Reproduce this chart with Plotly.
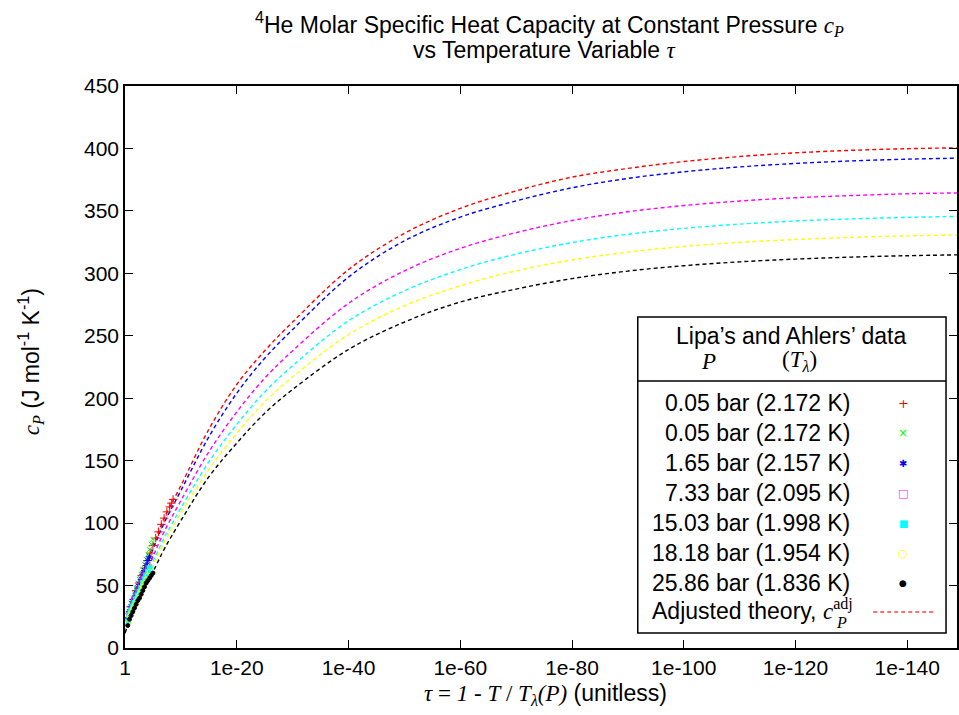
import plotly.graph_objects as go

# ---------------- data ----------------
# theory curves: tau given by its decade exponent (tau = 10**-L)
curve_L = [0, 1, 2, 3, 5, 7, 10, 15, 20, 25, 30, 40, 50, 60, 70, 80, 90, 100,
           110, 120, 130, 140, 149]
curve_red = [12, 32, 45, 58, 82, 104, 130, 175, 211, 238, 261, 303, 332, 352,
             366, 377, 384, 389.5, 393.5, 396.5, 398.5, 399.8, 400.5]
curve_blue = [12, 31, 43, 56, 79, 100, 126, 169, 204, 232, 255, 297, 326, 345,
              358, 368.5, 376, 381.3, 385.2, 388, 390, 391.4, 392.2]
curve_magenta = [12, 29, 40, 52, 73, 93, 118, 157, 189, 216, 238, 276, 302, 320,
                 332.6, 342.3, 349.3, 354.3, 357.9, 360.5, 362.3, 363.7, 364.4]
curve_cyan = [12, 27, 38, 50, 69, 88, 112, 149, 179, 205, 226, 262, 286, 303,
              315.4, 324.6, 331.3, 336, 339.4, 341.9, 343.6, 344.8, 345.6]
curve_yellow = [12, 26, 36, 48, 66, 84, 108, 143, 172, 197, 217, 251, 274, 290,
                302, 310.7, 317, 321.5, 324.8, 327.1, 328.8, 330, 330.7]
curve_black = [12, 24, 34, 45, 61, 79, 102, 137, 164, 188, 207, 239, 261, 277,
               287.4, 295.8, 301.8, 306.1, 309.2, 311.4, 313, 314.1, 314.8]

# measured data (Lipa's and Ahlers')
red_L = [0.5, 1, 1.5, 2, 2.5, 3, 3.5, 4, 4.5, 5, 5.5, 6, 6.5, 7, 7.5, 8, 8.3, 8.6]
red_c = [24, 33, 39, 46, 52, 58, 64, 70, 76, 82, 88, 93, 99, 104, 109, 113, 116, 119]
green_L = [0.5, 0.8, 1.1, 1.4, 1.7, 2.0, 2.3, 2.6, 2.9, 3.2, 3.5, 3.8, 4.1, 4.4, 4.7, 5.0]
green_c = [26, 32, 36, 40, 44, 48, 52, 55, 59, 63, 67, 71, 75, 79, 83, 87]
blue_L = [0.5, 0.8, 1.1, 1.4, 1.7, 2.0, 2.3, 2.6, 2.9, 3.2, 3.5, 3.8, 4.1, 4.4]
blue_c = [23, 29, 33, 37, 40, 44, 48, 51, 55, 59, 62, 66, 70, 73]
magenta_L = [0.5, 0.8, 1.1, 1.4, 1.7, 2.0, 2.3, 2.6, 2.9, 3.2, 3.5, 3.8, 4.1]
magenta_c = [22, 27, 31, 34, 38, 41, 44, 48, 51, 55, 58, 61, 64]
cyan_L = [0.5, 0.8, 1.1, 1.4, 1.7, 2.0, 2.3, 2.6, 2.9, 3.2, 3.5, 3.8, 4.1, 4.4]
cyan_c = [21, 26, 30, 33, 36, 39, 42, 45, 48, 52, 55, 58, 61, 64]
yellow_L = [0.5, 0.8, 1.1, 1.4, 1.7, 2.0, 2.3, 2.6, 2.9, 3.2, 3.5, 3.8, 4.1, 4.4]
yellow_c = [20, 25, 28, 31, 34, 37, 40, 43, 46, 49, 52, 55, 58, 61]
black_L = [0.5, 0.8, 1.1, 1.4, 1.7, 2.0, 2.3, 2.6, 2.9, 3.2, 3.5, 3.8, 4.1, 4.4, 4.7, 5.0]
black_c = [18, 23, 26, 29, 32, 35, 38, 40, 43, 46, 49, 52, 54, 56, 58, 60]

legend_labels = ["0.05 bar (2.172 K)", "0.05 bar (2.172 K)", "1.65 bar (2.157 K)",
                 "7.33 bar (2.095 K)", "15.03 bar (1.998 K)", "18.18 bar (1.954 K)",
                 "25.86 bar (1.836 K)"]
x_tick_exps = [0, 20, 40, 60, 80, 100, 120, 140]
x_tick_text = ["1", "1e-20", "1e-40", "1e-60", "1e-80", "1e-100", "1e-120", "1e-140"]
y_ticks = [0, 50, 100, 150, 200, 250, 300, 350, 400, 450]

# ---------------- figure ----------------
W, H = 959, 715
ML, MR, MT, MB = 125, 0, 86, 67
PW, PH = W - ML - MR, H - MT - MB

def px(x):
    return (x - ML) / PW

def py(y):
    return (H - MB - y) / PH

def tau(Ls):
    return [10.0 ** (-v) for v in Ls]

SANS = "Liberation Sans, Arial, sans-serif"
SERIF = "Liberation Serif"
FS = 21      # tick labels
FT = 23      # other texts

fig = go.Figure()

curve_sets = [
    (curve_red, "#ff0000"), (curve_blue, "#0000ff"), (curve_magenta, "#ff00ff"),
    (curve_cyan, "#00ffff"), (curve_yellow, "#ffff00"), (curve_black, "#000000"),
]
for vals, col in curve_sets:
    fig.add_trace(go.Scatter(x=tau(curve_L), y=vals, mode="lines",
                             line=dict(color=col, width=1.4, dash="4px,3px", shape="spline"),
                             showlegend=False, hoverinfo="skip"))

data_sets = [
    (red_L, red_c, "#ff0000", "cross-thin", 6),
    (green_L, green_c, "#00ff00", "x-thin", 5),
    (blue_L, blue_c, "#0000ff", "asterisk", 6),
    (magenta_L, magenta_c, "#ff00ff", "square-open", 5),
    (cyan_L, cyan_c, "#00ffff", "square", 5),
    (yellow_L, yellow_c, "#ffff00", "circle-open", 5),
    (black_L, black_c, "#000000", "circle", 4),
]
for Ls, cs, col, sym, sz in data_sets:
    fig.add_trace(go.Scatter(x=tau(Ls), y=cs, mode="markers",
                             marker=dict(symbol=sym, size=sz, color=col,
                                         line=dict(color=col, width=1)),
                             showlegend=False))

annotations = []
shapes = []

# title (two lines)
annotations.append(dict(
    x=px(551), y=py(24), xref="paper", yref="paper", showarrow=False,
    xanchor="center", yanchor="middle",
    text=("<sup>4</sup>He Molar Specific Heat Capacity at Constant Pressure "
          f"<span style='font-family:{SERIF}'><i>c</i><sub><i>P</i></sub></span>"),
    font=dict(family=SANS, size=FT, color="black")))
annotations.append(dict(
    x=px(546), y=py(50), xref="paper", yref="paper", showarrow=False,
    xanchor="center", yanchor="middle",
    text=f"vs Temperature Variable <span style='font-family:{SERIF}'><i>τ</i></span>",
    font=dict(family=SANS, size=FT, color="black")))

# axis titles
annotations.append(dict(
    x=px(547), y=py(695), xref="paper", yref="paper", showarrow=False,
    xanchor="center", yanchor="middle",
    text=(f"<span style='font-family:{SERIF}'><i>τ</i> = <i>1</i> - <i>T</i> / "
          "<i>T</i><sub><i>λ</i></sub><i>(P)</i></span> (unitless)"),
    font=dict(family=SANS, size=FT, color="black")))
annotations.append(dict(
    x=px(30), y=py(362), xref="paper", yref="paper", showarrow=False,
    xanchor="center", yanchor="middle", textangle=-90,
    text=(f"<span style='font-family:{SERIF}'><i>c</i><sub><i>P</i></sub></span>"
          " (J mol<sup>-1</sup> K<sup>-1</sup>)"),
    font=dict(family=SANS, size=FT, color="black")))

# legend box
LX0, LX1, LY0, LY1, LSEP = 639, 948, 317, 633, 381
shapes.append(dict(type="rect", xref="paper", yref="paper",
                   x0=px(LX0), x1=px(LX1), y0=py(LY1), y1=py(LY0),
                   line=dict(color="black", width=1.5), fillcolor="white", layer="above"))
shapes.append(dict(type="line", xref="paper", yref="paper",
                   x0=px(LX0), x1=px(LX1), y0=py(LSEP), y1=py(LSEP),
                   line=dict(color="black", width=1.5), layer="above"))
annotations.append(dict(
    x=px(793), y=py(336), xref="paper", yref="paper", showarrow=False,
    xanchor="center", yanchor="middle", text="Lipa’s and Ahlers’ data",
    font=dict(family=SANS, size=FT, color="black")))
annotations.append(dict(
    x=px(710), y=py(361), xref="paper", yref="paper", showarrow=False,
    xanchor="center", yanchor="middle", text="<i>P</i>",
    font=dict(family=SERIF, size=FT, color="black")))
annotations.append(dict(
    x=px(801), y=py(361), xref="paper", yref="paper", showarrow=False,
    xanchor="center", yanchor="middle", text="(<i>T</i><sub><i>λ</i></sub>)",
    font=dict(family=SERIF, size=FT, color="black")))

glyphs = [("+", "#ff0000", 13), ("×", "#00ff00", 12), ("✱", "#0000ff", 10),
          ("□", "#ff00ff", 11), ("■", "#00ffff", 10), ("○", "#ffff00", 11),
          ("●", "#000000", 9)]
for i, lab in enumerate(legend_labels):
    yy = 403 + 30 * i
    annotations.append(dict(
        x=px(854), y=py(yy), xref="paper", yref="paper", showarrow=False,
        xanchor="right", yanchor="middle", text=lab,
        font=dict(family=SANS, size=FT, color="black")))
    g, col, gs = glyphs[i]
    annotations.append(dict(
        x=px(905), y=py(yy), xref="paper", yref="paper", showarrow=False,
        xanchor="center", yanchor="middle", text=g,
        font=dict(family="DejaVu Sans", size=gs, color=col)))
annotations.append(dict(
    x=px(857), y=py(609), xref="paper", yref="paper", showarrow=False,
    xanchor="right", yanchor="middle",
    text=(f"Adjusted theory, <span style='font-family:{SERIF}'><i>c</i>"
          "<sup>adj</sup></span>"),
    font=dict(family=SANS, size=FT, color="black")))
annotations.append(dict(
    x=px(836), y=py(622), xref="paper", yref="paper", showarrow=False,
    xanchor="left", yanchor="middle", text="<i>P</i>",
    font=dict(family=SERIF, size=16, color="black")))
shapes.append(dict(type="line", xref="paper", yref="paper",
                   x0=px(875), x1=px(936), y0=py(612), y1=py(612),
                   line=dict(color="#ff4444", width=1.3, dash="4px,3px"), layer="above"))

axis_common = dict(showline=True, linecolor="black", linewidth=1.6, mirror="ticks",
                   ticks="inside", ticklen=8, tickwidth=1.3, tickcolor="black",
                   showgrid=False, zeroline=False,
                   tickfont=dict(family=SANS, size=FS, color="black"))

fig.update_layout(
    width=W, height=H, autosize=False,
    margin=dict(l=ML, r=MR, t=MT, b=MB, pad=0),
    paper_bgcolor="white", plot_bgcolor="white",
    showlegend=False,
    xaxis=dict(type="log", range=[0, -148.9],
               tickvals=[10.0 ** (-e) for e in x_tick_exps], ticktext=x_tick_text,
               **axis_common),
    yaxis=dict(range=[0, 450], tickvals=y_ticks, **axis_common),
    annotations=annotations, shapes=shapes,
)

fig.write_html("out.html")
